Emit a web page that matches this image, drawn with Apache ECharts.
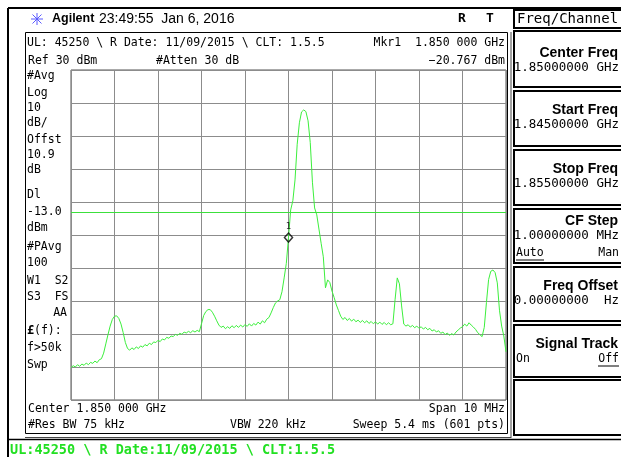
<!DOCTYPE html>
<html>
<head>
<meta charset="utf-8">
<script src="https://cdn.jsdelivr.net/npm/echarts@6/dist/echarts.min.js"></script>
<style>
html,body{margin:0;padding:0;background:#fff;}
#chart{width:621px;height:457px;}
</style>
</head>
<body>
<div id="chart"></div>
<script>
// ---- data ----
const freqStartMHz = 1845;
const freqStopMHz = 1855;
const stepMHz = 0.05;
const refLevel = 30;
const bottomLevel = -70;
const displayLine = -13.0;
const markerFreq = [1850];
const markerLevel = [-20.767];
const levels = [
 -60.2,-59.6,-60.0,-59.3,-59.8,-59.1,-59.5,-58.8,-59.3,-58.6,-58.9,-58.2,-58.7,-57.8,-57.5,-55.8,-53.0,-50.2,-47.6,-45.6,
 -44.6,-44.5,-45.3,-47.0,-49.6,-52.6,-54.4,-54.9,-54.2,-54.7,-53.9,-54.4,-53.6,-54.0,-53.2,-53.6,-52.8,-53.2,-52.4,-52.6,
 -51.9,-52.3,-51.5,-51.8,-51.0,-51.3,-50.6,-50.8,-50.1,-50.4,-49.8,-50.1,-49.4,-49.7,-49.2,-49.6,-49.0,-49.4,-48.9,-49.3,
 -46.9,-44.4,-43.2,-42.6,-42.6,-43.4,-44.6,-46.0,-47.3,-48.0,-47.6,-48.4,-47.8,-48.3,-47.5,-48.1,-47.4,-48.0,-47.3,-47.9,
 -47.1,-47.7,-46.9,-47.6,-46.8,-47.3,-46.4,-47.0,-46.0,-46.6,-45.5,-45.0,-43.6,-42.0,-40.6,-40.0,-39.6,-37.2,-33.0,-28.6,
 -20.767,-12.4,-9.6,-3.3,7.5,14.0,17.3,17.9,17.4,14.6,8.0,-4.0,-11.8,-13.9,-18.2,-22.5,-26.6,-36.0,-33.6,-34.4,
 -37.0,-39.0,-41.2,-42.9,-44.6,-45.6,-45.0,-45.9,-45.3,-46.1,-45.5,-46.3,-45.8,-46.5,-45.9,-46.6,-46.0,-46.8,-46.2,-46.9,
 -46.3,-47.0,-46.4,-47.1,-46.5,-47.2,-46.6,-47.2,-46.9,-39.6,-33.0,-34.8,-41.5,-47.0,-47.6,-47.2,-47.9,-47.4,-48.1,-47.6,
 -48.3,-47.8,-48.5,-48.0,-48.7,-48.3,-49.1,-48.7,-49.4,-49.0,-49.8,-49.4,-50.2,-49.7,-50.4,-49.9,-50.3,-49.4,-48.8,-48.2,
 -47.8,-47.0,-47.6,-46.6,-47.3,-47.9,-48.6,-49.6,-50.2,-50.8,-48.0,-40.5,-33.5,-31.0,-30.6,-31.4,-34.5,-42.8,-47.6,-50.6,-55.4
];
const leftLabels = ['#Avg','Log','10','dB/','Offst','10.9','dB','Dl','-13.0','dBm','#PAvg','100','W1  S2','S3  FS','AA','£(f):','f>50k','Swp'];
const softkeys = [
  {title:'Center Freq', value:'1.85000000 GHz'},
  {title:'Start Freq', value:'1.84500000 GHz'},
  {title:'Stop Freq', value:'1.85500000 GHz'},
  {title:'CF Step', value:'1.00000000 MHz', left:'Auto', right:'Man'},
  {title:'Freq Offset', value:'0.00000000  Hz'},
  {title:'Signal Track', left:'On', right:'Off'}
];

// ---- build ----
const trace = levels.map((v, i) => [freqStartMHz + i * stepMHz, v]);
const markers = markerFreq.map((f, i) => [f, markerLevel[i]]);

const MONO = '"DejaVu Sans Mono", "Liberation Mono", monospace';
const SANS = '"Liberation Sans", Arial, sans-serif';
const G = [];
function txt(t, x, y, opt) {
  opt = opt || {};
  G.push({type:'text', silent:true, style:{
    text:t, x:x, y:y, fill:opt.fill || '#000',
    font:opt.font || ('11.5px ' + MONO),
    align:opt.align || 'left', verticalAlign:'middle'
  }});
}
function line(x1, y1, x2, y2, w, c) {
  G.push({type:'line', silent:true, shape:{x1:x1,y1:y1,x2:x2,y2:y2}, style:{stroke:c || '#000', lineWidth:w || 1}});
}
function rect(x, y, w, h, lw, c) {
  G.push({type:'rect', silent:true, shape:{x:x,y:y,width:w,height:h}, style:{fill:'none', stroke:c || '#000', lineWidth:lw || 1}});
}

// outer frame lines
line(8, 8, 621, 8, 2);
line(8, 8, 8, 457, 2);
// main panel box
rect(25.5, 32.5, 482, 401, 1);
line(511, 32, 511, 438, 1, '#444');
line(25, 437.5, 511, 437.5, 1, '#444');
line(8, 439.5, 621, 439.5, 1.5);

// header
const cx = 37, cy = 19;
[[0,-6],[0,6],[-6,0],[6,0],[-4.5,-4.5],[4.5,4.5],[-4.5,4.5],[4.5,-4.5]].forEach(d => line(cx, cy, cx + d[0], cy + d[1], 1, '#5a5aff'));
txt('Agilent', 52, 19, {font:'bold 12.5px ' + SANS});
txt('23:49:55  Jan 6, 2016', 99, 19, {font:'14px ' + SANS});
txt('R', 462, 19, {font:'bold 13px ' + MONO, align:'center'});
txt('T', 490, 19, {font:'bold 13px ' + MONO, align:'center'});

// top of main panel
txt('UL: 45250 \\ R Date: 11/09/2015 \\ CLT: 1.5.5', 27, 43);
txt('Mkr1  1.850 000 GHz', 505, 43, {align:'right'});
txt('Ref 30 dBm', 28, 61);
txt('#Atten 30 dB', 156, 61);
txt('\u221220.767 dBm', 505, 61, {align:'right'});

// left labels
const leftY = [76,93,108,123,140,155,170,195,212,228,247,263,281,297,313,331,348,365];
leftLabels.forEach((t, i) => {
  if (t === 'AA') txt(t, 67, leftY[i], {align:'right'});
  else if (t === '£(f):') { txt('£', 27, leftY[i], {font:'bold 12px ' + MONO}); txt('(f):', 34, leftY[i]); }
  else txt(t, 27, leftY[i]);
});

// bottom
txt('Center 1.850 000 GHz', 28, 409);
txt('Span 10 MHz', 505, 409, {align:'right'});
txt('#Res BW 75 kHz', 28, 425);
txt('VBW 220 kHz', 230, 425);
txt('Sweep 5.4 ms (601 pts)', 505, 425, {align:'right'});
txt('UL:45250 \\ R Date:11/09/2015 \\ CLT:1.5.5', 10, 450, {font:'bold 13.5px ' + MONO, fill:'#22e022'});

// softkey panel
rect(514, 10, 108, 18, 2);
txt('Freq/Channel', 517, 19.5, {font:'14px ' + MONO});
const boxTop = [31, 91, 150, 209, 267, 325];
const boxH = [56, 55, 55, 54, 54, 52];
softkeys.forEach((k, i) => {
  const t = boxTop[i];
  rect(514, t, 108, boxH[i], 2);
  const hasSub = !!k.left;
  const ty = (i === 3) ? t + 12 : (i === 0 ? t + 22 : t + 19);
  txt(k.title, 618, ty, {font:'bold 14px ' + SANS, align:'right'});
  if (k.value) txt(k.value, 619, ty + 15, {font:'12.5px ' + MONO, align:'right'});
  if (hasSub) {
    const sy = k.value ? ty + 32 : ty + 15;
    txt(k.left, 516, sy, {font:'11.5px ' + MONO});
    txt(k.right, 619, sy, {font:'11.5px ' + MONO, align:'right'});
    if (i === 3) line(516, sy + 7, 544, sy + 7, 1);
    if (i === 5) line(598, sy + 7, 619, sy + 7, 1);
  }
});
rect(514, 380, 108, 55, 2);

const chart = echarts.init(document.getElementById('chart'), null, {renderer:'canvas'});
chart.setOption({
  animation:false,
  backgroundColor:'#fff',
  grid:{left:71, top:70, width:435, height:330, show:true, borderColor:'#555', borderWidth:1, backgroundColor:'transparent'},
  xAxis:{type:'value', min:freqStartMHz, max:freqStopMHz, interval:1,
    axisLine:{show:false}, axisTick:{show:false}, axisLabel:{show:false},
    splitLine:{show:true, lineStyle:{color:'#8c8c8c', width:1}}},
  yAxis:{type:'value', min:bottomLevel, max:refLevel, interval:10,
    axisLine:{show:false}, axisTick:{show:false}, axisLabel:{show:false},
    splitLine:{show:true, lineStyle:{color:'#8c8c8c', width:1}}},
  series:[
    {type:'line', data:trace, showSymbol:false, symbol:'none', z:3,
     lineStyle:{color:'#3cef3c', width:1},
     markLine:{silent:true, symbol:'none', label:{show:false},
       lineStyle:{color:'#3ce03c', width:1, type:'solid'},
       data:[{yAxis:displayLine}]}},
    {type:'scatter', data:markers, symbol:'diamond', symbolSize:[8,9], z:5,
     itemStyle:{color:'rgba(255,255,255,0)', borderColor:'#000', borderWidth:1.5},
     label:{show:true, formatter:'1', position:'top', distance:1, fontSize:9, fontFamily:'DejaVu Sans Mono', color:'#000'}}
  ],
  graphic:G
});
</script>
</body>
</html>
